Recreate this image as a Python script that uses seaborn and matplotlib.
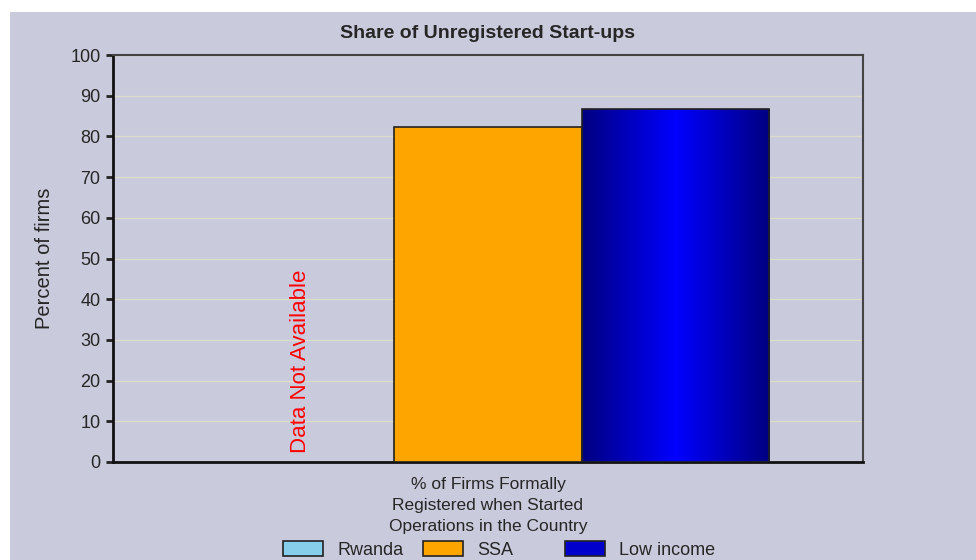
import numpy as np
import pandas as pd
import matplotlib
matplotlib.use("Agg")
import matplotlib.pyplot as plt
from matplotlib.patches import Rectangle, Patch
from matplotlib.colors import LinearSegmentedColormap
import seaborn as sns

category = ["% of Firms Formally\nRegistered when Started\nOperations in the Country"]
groups = ["Rwanda", "SSA", "Low income"]
values = [np.nan, 82.3, 86.8]
colors = ["#87CEEB", "#FFA500", "#0000CC"]
yticks = [0, 10, 20, 30, 40, 50, 60, 70, 80, 90, 100]

BG = "#CACADD"
sns.set_theme(style="white")
plt.rcParams["font.family"] = ["Liberation Sans", "DejaVu Sans"]

df = pd.DataFrame({"cat": category * 3, "group": groups, "value": values})

fig = plt.figure(figsize=(9.76, 5.6), dpi=100, facecolor="white")
fig.patches.append(Rectangle((10 / 976, 0), 1, 1 - 12 / 560, transform=fig.transFigure,
                             facecolor=BG, edgecolor="none", zorder=-10))
ax = fig.add_axes([113 / 976, 1 - 462 / 560, 750 / 976, 407 / 560])
ax.set_facecolor(BG)

sns.barplot(data=df, x="cat", y="value", hue="group", hue_order=groups,
            palette=colors, width=0.75, dodge=True, saturation=1,
            edgecolor="#222222", linewidth=1.2, legend=False, ax=ax, zorder=3)

ax.set_ylim(0, 100)
ax.set_xlim(-0.5, 0.5)
ax.set_yticks(yticks)
ax.set_yticklabels([str(t) for t in yticks], fontsize=13)
ax.tick_params(axis="y", length=5, width=2, color="#222222", pad=4, left=True)
ax.tick_params(axis="x", length=0, pad=11)
for lab in ax.get_xticklabels():
    lab.set_fontsize(12.5)
    lab.set_linespacing(1.5)
ax.grid(axis="y", color="#DCDCCB", linewidth=1, zorder=0)
ax.set_axisbelow(True)
ax.set_xlabel("")
ax.set_ylabel("Percent of firms", fontsize=14.5, labelpad=12)
ax.set_title("Share of Unregistered Start-ups", fontsize=14, fontweight="bold", pad=12)

for side in ["left", "bottom"]:
    ax.spines[side].set_color("#111111")
    ax.spines[side].set_linewidth(2)
for side in ["top", "right"]:
    ax.spines[side].set_color("#444444")
    ax.spines[side].set_linewidth(1.5)
    ax.spines[side].set_visible(True)

# gradient for the Low income bar
w = 0.75 / 3
pos = [-0.75 / 2 + w * (i + 0.5) for i in range(3)]
for p in [p for p in ax.patches if isinstance(p, Rectangle)]:
    cx = p.get_x() + p.get_width() / 2
    if abs(cx - pos[2]) < 1e-3 and p.get_height() > 0:
        cmap = LinearSegmentedColormap.from_list("g", ["#000080", "#0000FF", "#000080"])
        grad = np.linspace(0, 1, 256).reshape(1, -1)
        im = ax.imshow(grad, cmap=cmap, aspect="auto",
                       extent=[p.get_x(), p.get_x() + p.get_width(), 0, p.get_height()],
                       zorder=3.5)
        im.set_clip_path(p)
        p.set_facecolor("none")
        p.set_zorder(4)

ax.set_xlim(-0.5, 0.5)
ax.set_ylim(0, 100)
ax.text(pos[0], 2.3, "Data Not Available", rotation=90, color="red",
        ha="center", va="bottom", fontsize=16)

legend_x = [283, 423, 565]
for g, c, lx in zip(groups, colors, legend_x):
    h = Patch(facecolor=c, edgecolor="#222222", linewidth=1.2)
    fig.legend([h], [g], loc="upper left", bbox_to_anchor=(lx / 976, 1 - 541 / 560),
               frameon=False, fontsize=13, handlelength=2.2, handleheight=0.9,
               handletextpad=0.8, borderpad=0, borderaxespad=0)

fig.savefig("out.png", dpi=100, facecolor="white")
